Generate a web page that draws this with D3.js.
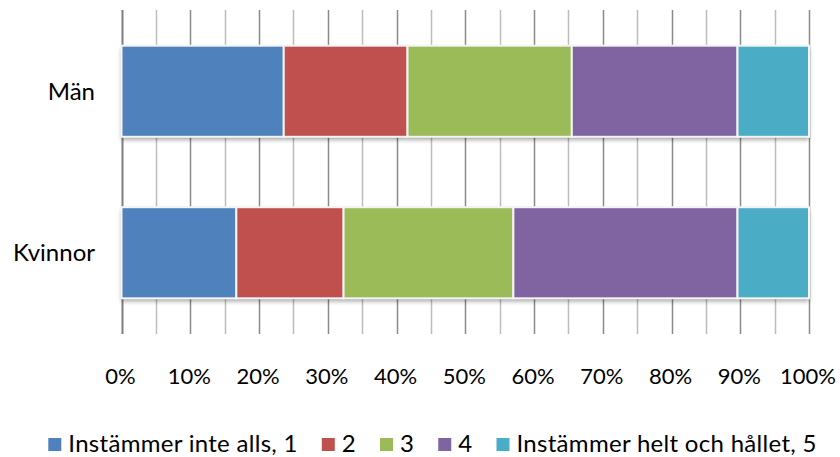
<!DOCTYPE html>
<html>
<head>
<meta charset="utf-8">
<script src="https://cdn.jsdelivr.net/npm/d3@7"></script>
<style>
  html, body { margin: 0; padding: 0; background: #fff; }
  svg text { font-family: Lato, "Open Sans", sans-serif; fill: #000; }
</style>
</head>
<body>
<svg id="chart" width="840" height="457"></svg>
<script>
const categories = ["Män", "Kvinnor"];
const seriesNames = ["Instämmer inte alls, 1", "2", "3", "4", "Instämmer helt och hållet, 5"];
const seriesColors = ["#4f81bd", "#c0504d", "#9bbb59", "#8064a2", "#4bacc6"];
const valuesMan = [23.6, 18.0, 23.9, 24.1, 10.4];
const valuesKvinnor = [16.7, 15.6, 24.7, 32.6, 10.4];
const tickValues = [0, 10, 20, 30, 40, 50, 60, 70, 80, 90, 100];
const gridValues = d3.range(0, 101, 5);

const svg = d3.select("#chart");

const x = d3.scaleLinear().domain([0, 100]).range([121.5, 809]);
const y = d3.scaleBand().domain(categories).range([10, 334])
  .paddingInner(0.436).paddingOuter(0.221);

const defs = svg.append("defs");
const f = defs.append("filter").attr("id", "shadow")
  .attr("x", "-5%").attr("y", "-10%").attr("width", "110%").attr("height", "130%");
f.append("feDropShadow").attr("dx", 0).attr("dy", 3).attr("stdDeviation", 2)
  .attr("flood-color", "#000").attr("flood-opacity", 0.35);

// gridlines
svg.append("g").selectAll("line").data(gridValues).join("line")
  .attr("x1", d => Math.round(x(d)) + 0.5).attr("x2", d => Math.round(x(d)) + 0.5)
  .attr("y1", 10).attr("y2", 334)
  .attr("stroke", d => d === 0 ? "#7f7f7f" : (d % 10 === 0 ? "#8a8a8a" : "#bdbdbd"))
  .attr("stroke-width", d => d === 0 ? 2 : 1.5);

// stacked data
const rows = [
  Object.assign({ cat: "Män" }, ...seriesNames.map((s, i) => ({ [s]: valuesMan[i] }))),
  Object.assign({ cat: "Kvinnor" }, ...seriesNames.map((s, i) => ({ [s]: valuesKvinnor[i] })))
];
const stack = d3.stack().keys(seriesNames)(rows);

const bars = svg.append("g");
bars.selectAll("rect.sh").data(rows).join("rect").attr("class", "sh")
  .attr("x", x(0)).attr("y", d => y(d.cat))
  .attr("width", x(100) - x(0)).attr("height", y.bandwidth())
  .attr("fill", "#fff").attr("filter", "url(#shadow)");

bars.selectAll("g.series").data(stack).join("g").attr("class", "series")
  .attr("fill", (d, i) => seriesColors[i])
  .selectAll("rect").data(d => d).join("rect")
  .attr("x", d => x(d[0]))
  .attr("y", d => y(d.data.cat))
  .attr("width", d => x(d[1]) - x(d[0]))
  .attr("height", y.bandwidth())
  .attr("stroke", "#f4f4f4").attr("stroke-width", 2);

// category labels
svg.append("g").selectAll("text").data(categories).join("text")
  .attr("x", 95).attr("y", d => y(d) + y.bandwidth() / 2 + 8.5)
  .attr("text-anchor", "end").attr("font-size", 24)
  .text(d => d);

// x tick labels
svg.append("g").selectAll("text").data(tickValues).join("text")
  .attr("x", d => x(d) - 1).attr("y", 384)
  .attr("text-anchor", "middle").attr("font-size", 22)
  .text(d => d + "%");

// legend
const legend = svg.append("g");
const items = legend.selectAll("g").data(seriesNames).join("g");
items.append("rect").attr("width", 13).attr("height", 13).attr("y", 438)
  .attr("fill", (d, i) => seriesColors[i]);
items.append("text").attr("x", 20).attr("y", 452).attr("font-size", 24)
  .attr("letter-spacing", 0.3).text(d => d);
let widths = [];
items.each(function() { widths.push(d3.select(this).select("text").node().getComputedTextLength()); });
const gap = 24;
const total = d3.sum(widths.map(w => 20 + w)) + gap * (widths.length - 1);
let cx = 432.5 - total / 2;
items.each(function(d, i) {
  d3.select(this).attr("transform", `translate(${cx},0)`);
  cx += 20 + widths[i] + gap;
});
</script>
</body>
</html>
